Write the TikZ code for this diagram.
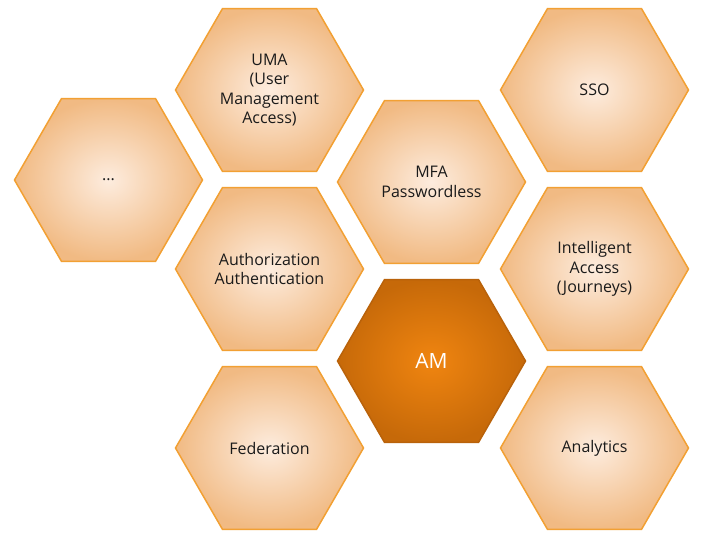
\documentclass[tikz,border=0pt]{standalone}
\usepackage{fontspec}
\setmainfont{Open Sans}
\usetikzlibrary{shapes.geometric}

\definecolor{hexedge}{HTML}{F2A033}
\definecolor{hexin}{HTML}{FDECDE}
\definecolor{hexout}{HTML}{F1BA83}
\definecolor{hextext}{HTML}{1A1A1A}
\definecolor{coreedge}{HTML}{B9620A}
\definecolor{corein}{HTML}{F08510}
\definecolor{coreout}{HTML}{C66909}

\tikzset{
  hex/.style={regular polygon, regular polygon sides=6, minimum size=188bp,
    inner sep=0pt, draw=hexedge, line width=1.5bp,
    inner color=hexin, outer color=hexout, text=hextext, align=center,
    font=\fontsize{16bp}{19.5bp}\selectfont},
  core/.style={hex, draw=coreedge, inner color=corein, outer color=coreout,
    text=white, font=\fontsize{21bp}{25bp}\selectfont}
}

\begin{document}
\begin{tikzpicture}[x=1bp,y=-1bp]
    \useasboundingbox (0,0) rectangle (720,540);

    % far left
    \node[hex] (more) at (108.5,180) {...};

    % left column
    \node[hex] (uma) at (269.5,90) {UMA\\(User\\Management\\Access)};
    \node[hex] (authz) at (269.5,269) {Authorization\\Authentication};
    \node[hex] (fed) at (269.5,448) {Federation};

    % middle column
    \node[hex] (mfa) at (431.5,182) {MFA\\Passwordless};
    \node[core] (am) at (431.5,361) {AM};

    % right column
    \node[hex] (sso) at (594.5,90) {SSO};
    \node[hex] (journeys) at (594.5,269) {Intelligent\\Access\\(Journeys)};
    \node[hex] (analytics) at (594.5,448) {Analytics};
\end{tikzpicture}
\end{document}
